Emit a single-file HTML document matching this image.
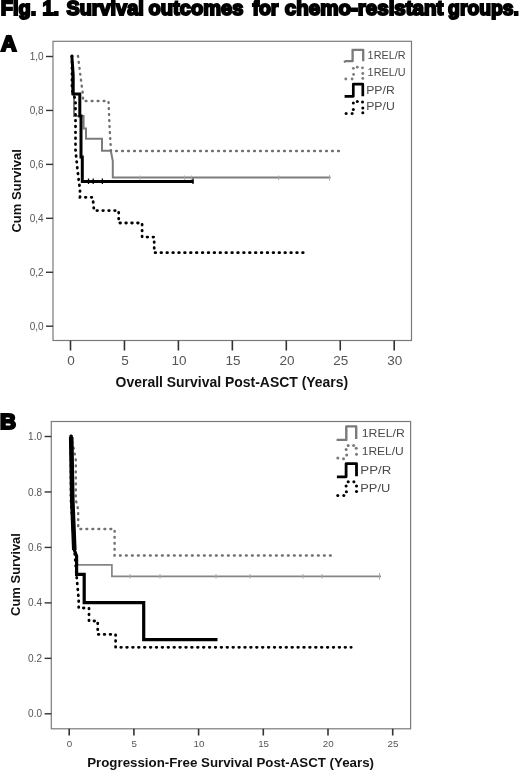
<!DOCTYPE html>
<html><head><meta charset="utf-8">
<style>
html,body{margin:0;padding:0;background:#fff;width:520px;height:770px;overflow:hidden}
svg{display:block;filter:blur(0.3px);font-family:"Liberation Sans",sans-serif}
</style></head>
<body>
<svg width="520" height="770" viewBox="0 0 520 770">
<g font-size="21" font-weight="bold" fill="#000" stroke="#000" stroke-width="2.0">
<text x="0.87" y="14.6" textLength="35.36" lengthAdjust="spacingAndGlyphs">Fig.</text>
<text x="42.42" y="14.6" textLength="16.56" lengthAdjust="spacingAndGlyphs">1.</text>
<text x="66.40" y="14.6" textLength="77.31" lengthAdjust="spacingAndGlyphs">Survival</text>
<text x="148.59" y="14.6" textLength="94.71" lengthAdjust="spacingAndGlyphs">outcomes</text>
<text x="252.44" y="14.6" textLength="26.03" lengthAdjust="spacingAndGlyphs">for</text>
<text x="284.79" y="14.6" textLength="158.62" lengthAdjust="spacingAndGlyphs">chemo-resistant</text>
<text x="448.09" y="14.6" textLength="70.91" lengthAdjust="spacingAndGlyphs">groups.</text>
</g>

<text x="1" y="51" font-size="21.5" font-weight="bold" fill="#000" stroke="#000" stroke-width="2.2" textLength="15.5" lengthAdjust="spacingAndGlyphs">A</text>
<text x="0" y="429.2" font-size="21.5" font-weight="bold" fill="#000" stroke="#000" stroke-width="2.2" textLength="16" lengthAdjust="spacingAndGlyphs">B</text>
<g>
<rect x="53" y="41.3" width="358.5" height="299.2" fill="none" stroke="#7a7a7a" stroke-width="1.2"/>
<g stroke="#333" stroke-width="1.4">
<line x1="46" y1="56.50" x2="53" y2="56.50"/>
<line x1="46" y1="110.44" x2="53" y2="110.44"/>
<line x1="46" y1="164.38" x2="53" y2="164.38"/>
<line x1="46" y1="218.32" x2="53" y2="218.32"/>
<line x1="46" y1="272.26" x2="53" y2="272.26"/>
<line x1="46" y1="326.20" x2="53" y2="326.20"/>
</g>
<g font-size="10" fill="#555" text-anchor="end">
<text x="43.6" y="60.10">1,0</text>
<text x="43.6" y="114.04">0,8</text>
<text x="43.6" y="167.98">0,6</text>
<text x="43.6" y="221.92">0,4</text>
<text x="43.6" y="275.86">0,2</text>
<text x="43.6" y="329.80">0,0</text>
</g>
<g stroke="#333" stroke-width="1.6">
<line x1="70.50" y1="340.5" x2="70.50" y2="350.5"/>
<line x1="124.45" y1="340.5" x2="124.45" y2="350.5"/>
<line x1="178.40" y1="340.5" x2="178.40" y2="350.5"/>
<line x1="232.35" y1="340.5" x2="232.35" y2="350.5"/>
<line x1="286.30" y1="340.5" x2="286.30" y2="350.5"/>
<line x1="340.25" y1="340.5" x2="340.25" y2="350.5"/>
<line x1="394.20" y1="340.5" x2="394.20" y2="350.5"/>
</g>
<g font-size="13.5" fill="#555" text-anchor="middle">
<text x="71.10" y="364.5">0</text>
<text x="125.05" y="364.5">5</text>
<text x="179.00" y="364.5">10</text>
<text x="232.95" y="364.5">15</text>
<text x="286.90" y="364.5">20</text>
<text x="340.85" y="364.5">25</text>
<text x="394.80" y="364.5">30</text>
</g>
<text x="115.6" y="386.5" font-size="14" font-weight="bold" fill="#111" textLength="232.6" lengthAdjust="spacingAndGlyphs">Overall Survival Post-ASCT (Years)</text>
<text transform="translate(21.2,232.6) rotate(-90)" font-size="13" font-weight="bold" fill="#111" textLength="83.6" lengthAdjust="spacingAndGlyphs">Cum Survival</text>
<path d="M72,56 V94 H74 V116 H83.6 V128.5 H86 V138.8 H102 V150.8 H110.8 L112.8,161 V177.5 H330.6" fill="none" stroke="#7c7c7c" stroke-width="2"/>
<path d="M184.6,175.5 V180.1 M191.3,175.5 V180.1 M278.6,175.5 V180.1 M329.5,175 V180.6 M140,175.5 V180.1" stroke="#aaa" stroke-width="1"/>
<path d="M78,56 L79,64 L80,72 L81,80 L82,88 L83,94 V101 H108.5 L109.5,126 L111,151 H342" fill="none" stroke="#707070" stroke-width="2.4" stroke-dasharray="0.8 5.2" stroke-linecap="round"/>
<path d="M72,56 V90 L75.5,100 V150 L77.5,170 L80,190 V197.3 H92.7 L94,210.6 H118.7 V223 H142.1 V237.1 H154.2 V252.7 H305.8" fill="none" stroke="#000" stroke-width="2.8" stroke-dasharray="0.6 5.3" stroke-linecap="round"/>
<path d="M71.8,55.3 L73.2,75 V94 H79.8 V116 H81 V157 H82.3 V181.5 H193.5" fill="none" stroke="#000" stroke-width="3"/>
<path d="M88.5,178.5 V184 M93.2,178.5 V184 M102.4,178.5 V184 M193,178.5 V184" stroke="#000" stroke-width="1.3"/>
<path d="M343.8,62 L346,61.2 H352.6 V49.8 H363.2 V61.3" fill="none" stroke="#7a7a7a" stroke-width="2.3" stroke-linejoin="round"/>
<circle cx="353.3" cy="68.3" r="1.4" fill="#7a7a7a"/><circle cx="357.3" cy="67.2" r="1.4" fill="#7a7a7a"/><circle cx="362.5" cy="67.8" r="1.4" fill="#7a7a7a"/><circle cx="353.6" cy="74.4" r="1.4" fill="#7a7a7a"/><circle cx="362.8" cy="73.5" r="1.4" fill="#7a7a7a"/><circle cx="345.8" cy="79" r="1.4" fill="#7a7a7a"/><circle cx="352.1" cy="79" r="1.4" fill="#7a7a7a"/><circle cx="362.8" cy="78.4" r="1.4" fill="#7a7a7a"/>
<path d="M344.6,96.3 H353.3 V84.2 H362.8 V96.2" fill="none" stroke="#000" stroke-width="2.7" stroke-linejoin="round"/>
<circle cx="353.3" cy="103.1" r="1.5" fill="#000"/><circle cx="357.3" cy="101.4" r="1.5" fill="#000"/><circle cx="362.5" cy="101.9" r="1.5" fill="#000"/><circle cx="353.3" cy="109.4" r="1.5" fill="#000"/><circle cx="362.8" cy="108" r="1.5" fill="#000"/><circle cx="346.1" cy="113.5" r="1.5" fill="#000"/><circle cx="352.1" cy="113.5" r="1.5" fill="#000"/><circle cx="362.8" cy="112.8" r="1.5" fill="#000"/>
<g font-size="11" fill="#4a4a4a">
<text x="367.6" y="59.2" textLength="38" lengthAdjust="spacingAndGlyphs">1REL/R</text>
<text x="367.6" y="75.6" textLength="38" lengthAdjust="spacingAndGlyphs">1REL/U</text>
<text x="366.2" y="93.8" textLength="28.6" lengthAdjust="spacingAndGlyphs">PP/R</text>
<text x="366.2" y="110.4" textLength="28.6" lengthAdjust="spacingAndGlyphs">PP/U</text>
</g>
</g>
<g>
<rect x="51.3" y="421.5" width="359.3" height="307.29999999999995" fill="none" stroke="#7a7a7a" stroke-width="1.2"/>
<g stroke="#333" stroke-width="1.4">
<line x1="44.6" y1="436.50" x2="51.3" y2="436.50"/>
<line x1="44.6" y1="491.96" x2="51.3" y2="491.96"/>
<line x1="44.6" y1="547.42" x2="51.3" y2="547.42"/>
<line x1="44.6" y1="602.88" x2="51.3" y2="602.88"/>
<line x1="44.6" y1="658.34" x2="51.3" y2="658.34"/>
<line x1="44.6" y1="713.80" x2="51.3" y2="713.80"/>
</g>
<g font-size="10" fill="#555" text-anchor="end">
<text x="42" y="440.10">1.0</text>
<text x="42" y="495.56">0.8</text>
<text x="42" y="551.02">0.6</text>
<text x="42" y="606.48">0.4</text>
<text x="42" y="661.94">0.2</text>
<text x="42" y="717.40">0.0</text>
</g>
<g stroke="#333" stroke-width="1.6">
<line x1="69.20" y1="728.8" x2="69.20" y2="735.5"/>
<line x1="133.90" y1="728.8" x2="133.90" y2="735.5"/>
<line x1="198.60" y1="728.8" x2="198.60" y2="735.5"/>
<line x1="263.30" y1="728.8" x2="263.30" y2="735.5"/>
<line x1="328.00" y1="728.8" x2="328.00" y2="735.5"/>
<line x1="392.70" y1="728.8" x2="392.70" y2="735.5"/>
</g>
<g font-size="9.8" fill="#555" text-anchor="middle">
<text x="69.50" y="747">0</text>
<text x="134.20" y="747">5</text>
<text x="198.90" y="747">10</text>
<text x="263.60" y="747">15</text>
<text x="328.30" y="747">20</text>
<text x="393.00" y="747">25</text>
</g>
<text x="87.2" y="767" font-size="13.3" font-weight="bold" fill="#111" textLength="286.8" lengthAdjust="spacingAndGlyphs">Progression-Free Survival Post-ASCT (Years)</text>
<text transform="translate(20.3,615.9) rotate(-90)" font-size="13" font-weight="bold" fill="#111" textLength="82.8" lengthAdjust="spacingAndGlyphs">Cum Survival</text>
<path d="M71,436 V500 L74,545 L77,560 V564.8 H111.9 V576.3 H381" fill="none" stroke="#858585" stroke-width="1.7"/>
<path d="M216,574 V578.6 M250,574 V578.6 M303,574 V578.6 M322,574 V578.6 M379.5,573 V579.6 M130,574 V578.6 M160,574 V578.6" stroke="#aaa" stroke-width="1"/>
<path d="M71,436 L74,450 L75.8,460 V500 L78.2,510 V529 H114.6 V555.5 H333.5" fill="none" stroke="#707070" stroke-width="2.4" stroke-dasharray="0.8 5.2" stroke-linecap="round"/>
<path d="M71,436 V500 L74,545 L76.5,575 L78.7,600 V608 H89 V621 H97.7 V634.4 H115.6 V647.3 H351.2" fill="none" stroke="#000" stroke-width="2.8" stroke-dasharray="0.6 5.3" stroke-linecap="round"/>
<path d="M71.2,435.3 L72.3,500 L74.3,550 L76.6,556 V574.4 H84.2 V602.6 H143.7 V639.6 H217.5" fill="none" stroke="#000" stroke-width="3.2"/>
<path d="M71.2,437 L72.3,500 L74.3,550" fill="none" stroke="#000" stroke-width="4.6"/>
<path d="M336.6,439.9 H346.3 V426.4 H356.2 V439" fill="none" stroke="#7a7a7a" stroke-width="2.4" stroke-linejoin="round"/>
<circle cx="348.2" cy="445.4" r="1.5" fill="#7a7a7a"/><circle cx="353.6" cy="445.4" r="1.5" fill="#7a7a7a"/><circle cx="356.2" cy="448.3" r="1.5" fill="#7a7a7a"/><circle cx="346.1" cy="449.4" r="1.5" fill="#7a7a7a"/><circle cx="346.7" cy="454.9" r="1.5" fill="#7a7a7a"/><circle cx="356.5" cy="454.3" r="1.5" fill="#7a7a7a"/><circle cx="337.8" cy="458.1" r="1.5" fill="#7a7a7a"/><circle cx="343.5" cy="458.7" r="1.5" fill="#7a7a7a"/>
<path d="M336.9,476.8 H346.1 V463.6 H356.5 V476.2" fill="none" stroke="#000" stroke-width="2.8" stroke-linejoin="round"/>
<circle cx="348.2" cy="481.7" r="1.55" fill="#000"/><circle cx="353.9" cy="481.7" r="1.55" fill="#000"/><circle cx="346.1" cy="486" r="1.55" fill="#000"/><circle cx="356.5" cy="486" r="1.55" fill="#000"/><circle cx="346.4" cy="491.8" r="1.55" fill="#000"/><circle cx="356.5" cy="491.5" r="1.55" fill="#000"/><circle cx="337.8" cy="495.5" r="1.55" fill="#000"/><circle cx="343.8" cy="495.5" r="1.55" fill="#000"/>
<g font-size="11.5" fill="#4a4a4a">
<text x="361.8" y="437" textLength="43" lengthAdjust="spacingAndGlyphs">1REL/R</text>
<text x="361.8" y="455" textLength="42" lengthAdjust="spacingAndGlyphs">1REL/U</text>
<text x="360.3" y="474" textLength="31" lengthAdjust="spacingAndGlyphs">PP/R</text>
<text x="360.3" y="492" textLength="30" lengthAdjust="spacingAndGlyphs">PP/U</text>
</g>
</g>
</svg>
</body></html>
